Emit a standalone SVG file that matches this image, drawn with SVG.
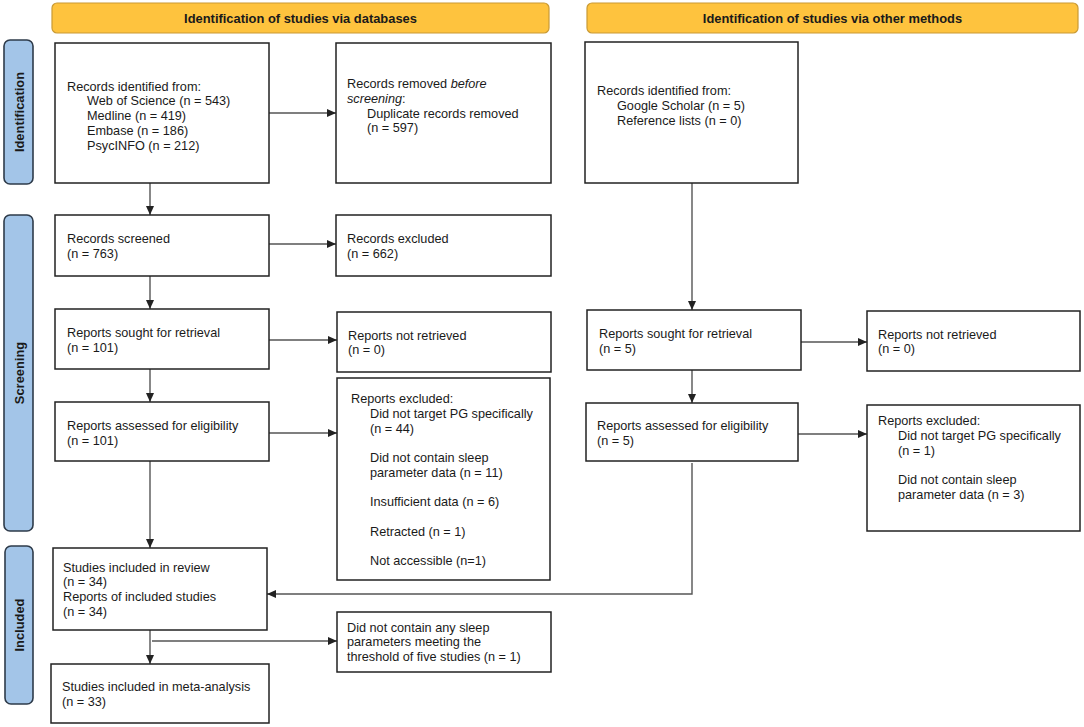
<svg xmlns="http://www.w3.org/2000/svg" width="1084" height="727" viewBox="0 0 1084 727">
<style>
text{font-family:"Liberation Sans",Arial,sans-serif;font-size:12.7px;fill:#1a1a1a}
.hdr rect{fill:#FEC33E;stroke:#C99A35;stroke-width:1.2}
.hdr text{font-weight:bold;font-size:12.9px;text-anchor:middle}
.side rect{fill:#A3C5E8;stroke:#2E3B4A;stroke-width:1.6}
.side text{font-weight:bold;font-size:12.9px;text-anchor:middle}
.box rect{fill:#fff;stroke:#222;stroke-width:1.5}
.conn path{fill:none;stroke:#555;stroke-width:1.4}
</style>
<defs>
<marker id="ah" markerWidth="9" markerHeight="8" refX="9" refY="4" orient="auto" markerUnits="userSpaceOnUse">
<path d="M0,0 L9,4 L0,8 z" fill="#222"/>
</marker>
</defs>
<rect width="1084" height="727" fill="#fff"/>

<g id="header-databases" class="hdr"><rect x="52" y="3" width="497" height="30" rx="5"/><text x="300.5" y="23">Identification of studies via databases</text></g>
<g id="header-other" class="hdr"><rect x="587" y="3" width="491" height="30" rx="5"/><text x="832.5" y="23">Identification of studies via other methods</text></g>

<g id="side-identification" class="side"><rect x="4" y="40" width="29" height="144" rx="6"/><text transform="translate(23.5,112) rotate(-90)">Identification</text></g>
<g id="side-screening" class="side"><rect x="4" y="215" width="29" height="316" rx="6"/><text transform="translate(23.5,373) rotate(-90)">Screening</text></g>
<g id="side-included" class="side"><rect x="5" y="546" width="28" height="158" rx="6"/><text transform="translate(23.5,625) rotate(-90)">Included</text></g>

<g id="connectors" class="conn">
<path d="M150,183 V215" marker-end="url(#ah)"/>
<path d="M269,113 H336" marker-end="url(#ah)"/>
<path d="M269,244 H336" marker-end="url(#ah)"/>
<path d="M150,276 V309" marker-end="url(#ah)"/>
<path d="M269,340 H337" marker-end="url(#ah)"/>
<path d="M150,369 V402" marker-end="url(#ah)"/>
<path d="M269,433 H337" marker-end="url(#ah)"/>
<path d="M150,461 V548" marker-end="url(#ah)"/>
<path d="M692,183 V310" marker-end="url(#ah)"/>
<path d="M801,342 H867" marker-end="url(#ah)"/>
<path d="M692,370 V403" marker-end="url(#ah)"/>
<path d="M798,434 H867" marker-end="url(#ah)"/>
<path d="M692,463 V594 H267" marker-end="url(#ah)"/>
<path d="M150,630 V664" marker-end="url(#ah)"/>
<path d="M152,641 H337" marker-end="url(#ah)"/>
</g>

<g id="records-identified" class="box"><rect x="55" y="43" width="214" height="140"/>
<text x="67" y="90.5">Records identified from:</text>
<text x="87" y="105.3">Web of Science (n = 543)</text>
<text x="87" y="120">Medline (n = 419)</text>
<text x="87" y="134.8">Embase (n = 186)</text>
<text x="87" y="149.5">PsycINFO (n = 212)</text></g>

<g id="records-removed" class="box"><rect x="336" y="43" width="215" height="140"/>
<text x="347" y="88">Records removed <tspan font-style="italic">before</tspan></text>
<text x="347" y="102.8"><tspan font-style="italic">screening</tspan>:</text>
<text x="367" y="117.5">Duplicate records removed</text>
<text x="367" y="132.3">(n = 597)</text></g>

<g id="records-other" class="box"><rect x="585" y="42" width="213" height="141"/>
<text x="597" y="95">Records identified from:</text>
<text x="617" y="109.8">Google Scholar (n = 5)</text>
<text x="617" y="124.5">Reference lists (n = 0)</text></g>

<g id="records-screened" class="box"><rect x="55" y="215" width="214" height="61"/>
<text x="67" y="243">Records screened</text>
<text x="67" y="258">(n = 763)</text></g>

<g id="records-excluded" class="box"><rect x="336" y="215" width="215" height="61"/>
<text x="347" y="243">Records excluded</text>
<text x="347" y="258">(n = 662)</text></g>

<g id="reports-sought" class="box"><rect x="55" y="309" width="214" height="60"/>
<text x="67" y="337">Reports sought for retrieval</text>
<text x="67" y="351.5">(n = 101)</text></g>

<g id="reports-not-retrieved" class="box"><rect x="337" y="312" width="214" height="60"/>
<text x="348" y="339.5">Reports not retrieved</text>
<text x="348" y="354">(n = 0)</text></g>

<g id="reports-assessed" class="box"><rect x="55" y="402" width="214" height="59"/>
<text x="67" y="429.5">Reports assessed for eligibility</text>
<text x="67" y="444.5">(n = 101)</text></g>

<g id="reports-excluded" class="box"><rect x="337" y="378" width="213" height="202"/>
<text x="351" y="403">Reports excluded:</text>
<text x="370" y="417.8">Did not target PG specifically</text>
<text x="370" y="432.5">(n = 44)</text>
<text x="370" y="462">Did not contain sleep</text>
<text x="370" y="476.8">parameter data (n = 11)</text>
<text x="370" y="506.3">Insufficient data (n = 6)</text>
<text x="370" y="535.8">Retracted (n = 1)</text>
<text x="370" y="565.3">Not accessible (n=1)</text></g>

<g id="reports-sought-other" class="box"><rect x="587" y="310" width="214" height="60"/>
<text x="599" y="338">Reports sought for retrieval</text>
<text x="599" y="352.5">(n = 5)</text></g>

<g id="reports-not-retrieved-other" class="box"><rect x="867" y="311" width="213" height="60"/>
<text x="878" y="338.5">Reports not retrieved</text>
<text x="878" y="353">(n = 0)</text></g>

<g id="reports-assessed-other" class="box"><rect x="586" y="403" width="212" height="58"/>
<text x="597" y="430">Reports assessed for eligibility</text>
<text x="597" y="445">(n = 5)</text></g>

<g id="reports-excluded-other" class="box"><rect x="867" y="405" width="213" height="126"/>
<text x="878" y="425">Reports excluded:</text>
<text x="898" y="439.8">Did not target PG specifically</text>
<text x="898" y="454.5">(n = 1)</text>
<text x="898" y="484">Did not contain sleep</text>
<text x="898" y="498.8">parameter data (n = 3)</text></g>

<g id="studies-included" class="box"><rect x="53" y="548" width="214" height="82"/>
<text x="63" y="571.5">Studies included in review</text>
<text x="63" y="586.3">(n = 34)</text>
<text x="63" y="601">Reports of included studies</text>
<text x="63" y="615.8">(n = 34)</text></g>

<g id="no-sleep-params" class="box"><rect x="337" y="612" width="214" height="60"/>
<text x="347" y="631.5">Did not contain any sleep</text>
<text x="347" y="646.3">parameters meeting the</text>
<text x="347" y="661">threshold of five studies (n = 1)</text></g>

<g id="meta-analysis" class="box"><rect x="51" y="664" width="218" height="59"/>
<text x="62" y="691">Studies included in meta-analysis</text>
<text x="62" y="706">(n = 33)</text></g>
</svg>
